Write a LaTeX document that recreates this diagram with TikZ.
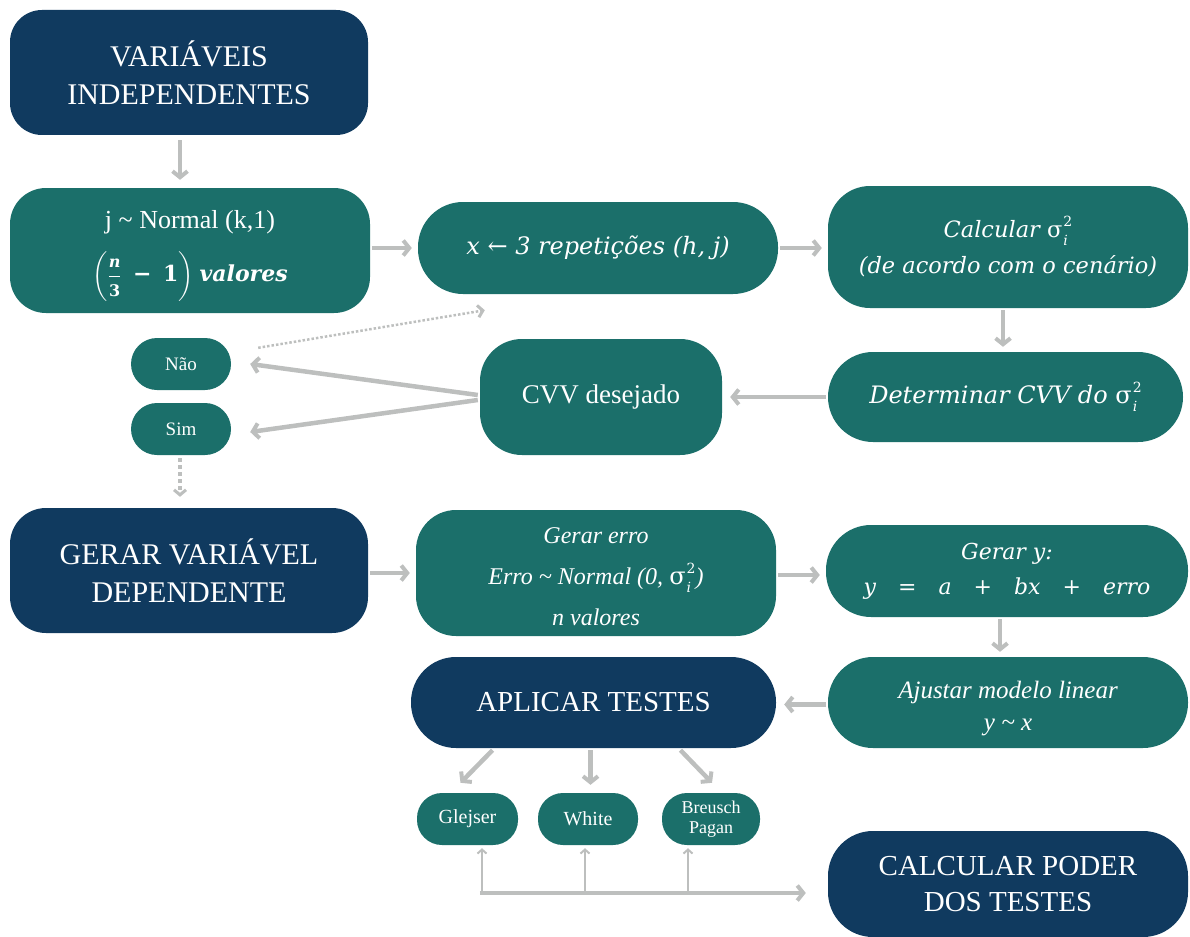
\documentclass[tikz,border=0pt]{standalone}
\usepackage{amsmath}
\usepackage{fontspec}
\newfontfamily\tms{Liberation Serif}
\newfontfamily\cam{DejaVu Serif}
\usetikzlibrary{arrows.meta}
\definecolor{dblue}{HTML}{103A5F}
\definecolor{tealb}{HTML}{1B6F6A}
\definecolor{agray}{HTML}{BDBFBE}
\newcommand\sigsq{{\upshape σ}\kern1pt\rlap{\raisebox{-8pt}{\fontsize{14}{14}\selectfont\itshape i}}\raisebox{11pt}{\fontsize{14}{14}\selectfont\upshape 2}}
\newcommand\fr[1]{\text{\fontsize{16}{16}\selectfont\cam\bfseries #1}}
\tikzset{
  box/.style={rectangle, fill=tealb, text=white, align=center, inner sep=0pt},
  dbox/.style={box, fill=dblue},
  arr/.style={draw=agray, line width=4.5pt, -{Straight Barb[length=6pt,width=15pt,line width=4pt]}},
  tarr/.style={draw=agray, line width=2pt, -{Straight Barb[length=4pt,width=9pt,line width=2pt]}},
  dotarr/.style={draw=agray, line width=3pt, dash pattern=on 3pt off 2.5pt, -{Straight Barb[length=5pt,width=12pt,line width=3pt]}},
  big/.style={font=\tms\fontsize{30}{38}\selectfont},
  mid/.style={font=\cam\itshape\fontsize{22.5}{36}\selectfont},
}
\begin{document}
\begin{tikzpicture}[x=1pt,y=-1pt]
\useasboundingbox (0,0) rectangle (1190,936);
% nodes
\node[dbox, big, minimum width=358pt, minimum height=125pt, rounded corners=32pt] (v1) at (189,72.5) {VARIÁVEIS\\INDEPENDENTES};
\node[box, minimum width=360pt, minimum height=125pt, rounded corners=36pt] (n2) at (190,250.5) {};
\node[text=white, align=center, inner sep=0pt] (n2t) at (190,256)
  {{\tms\fontsize{26}{30}\selectfont j \textasciitilde{} Normal (k,1)}\\[17pt]
   {\fontsize{22}{26}\selectfont $\left(\rule[-19pt]{0pt}{40pt}\dfrac{\fr{\itshape n}}{\fr{3}}\;\;\text{\cam\bfseries −}\;\;\text{\cam\bfseries 1}\right)$\kern6pt{\cam\bfseries\itshape valores}}};
\node[box, mid, font=\cam\itshape\fontsize{24}{36}\selectfont, minimum width=360pt, minimum height=92pt, rounded corners=45pt] (n3) at (598,248)
  {x ← 3 repetições (h, j)};
\node[box, mid, minimum width=360pt, minimum height=122pt, rounded corners=42pt] (n4) at (1008,247)
  {Calcular \sigsq\\(de acordo com o cenário)};
\node[box, mid, font=\cam\itshape\fontsize{24}{36}\selectfont, minimum width=355pt, minimum height=90pt, rounded corners=45pt] (n5) at (1005.5,397)
  {Determinar CVV do \sigsq};
\node[box, minimum width=242pt, minimum height=116pt, rounded corners=42pt, font=\tms\fontsize{27}{32}\selectfont] (n6) at (601,397) {CVV desejado};
\node[box, minimum width=100pt, minimum height=52pt, rounded corners=26pt, font=\tms\fontsize{19}{22}\selectfont] (n7) at (181,364) {Não};
\node[box, minimum width=100pt, minimum height=52pt, rounded corners=26pt, font=\tms\fontsize{19}{22}\selectfont] (n8) at (181,429) {Sim};
\node[dbox, big, minimum width=358pt, minimum height=125pt, rounded corners=36pt] (n9) at (189,570.5) {GERAR VARIÁVEL\\DEPENDENTE};
\node[box, minimum width=360pt, minimum height=126pt, rounded corners=40pt, font=\tms\itshape\fontsize{24}{41}\selectfont] (n10) at (596,573)
  {\rule{0pt}{24pt}Gerar erro\\Erro \textasciitilde{} Normal (0, {\cam\sigsq})\\n valores};
\node[box, minimum width=362pt, minimum height=92pt, rounded corners=45pt, font=\cam\itshape\fontsize{22}{35}\selectfont] (n11) at (1007,571)
  {Gerar y:\\y\quad{\upshape =}\quad a\quad{\upshape +}\quad bx\quad{\upshape +}\quad erro};
\node[dbox, font=\tms\fontsize{29}{36}\selectfont, minimum width=365pt, minimum height=91pt, rounded corners=45pt] (n12) at (593.5,702.5) {APLICAR TESTES};
\node[box, minimum width=360pt, minimum height=91pt, rounded corners=45pt, font=\tms\itshape\fontsize{25}{32}\selectfont] (n13) at (1008,702.5)
  {\rule{0pt}{29pt}Ajustar modelo linear\\y \textasciitilde{} x};
\node[box, minimum width=101pt, minimum height=52pt, rounded corners=25pt, font=\tms\fontsize{20}{22}\selectfont] (n14) at (467.5,819) {Glejser};
\node[box, minimum width=100pt, minimum height=52pt, rounded corners=25pt, font=\tms\fontsize{20}{22}\selectfont] (n15) at (588,819) {White};
\node[box, minimum width=98pt, minimum height=52pt, rounded corners=25pt, font=\tms\fontsize{18}{20}\selectfont] (n16) at (711,819) {Breusch\\Pagan};
\node[dbox, minimum width=360pt, minimum height=106pt, rounded corners=45pt, font=\tms\fontsize{29}{36}\selectfont] (n17) at (1008,884) {CALCULAR PODER\\DOS TESTES};
% connectors
\draw[arr] ([xshift=-9pt,yshift=-5pt]v1.south) -- ([xshift=-9pt,yshift=8pt]v1.south |- n2.north);
\draw[arr] ([xshift=2pt]n2.east |- n3.west) -- ([xshift=-6pt]n3.west);
\draw[arr] ([xshift=2pt]n3.east) -- ([xshift=-6pt]n3.east -| n4.west);
\draw[arr] ([xshift=-5pt,yshift=-2pt]n4.south) -- ([xshift=-5pt,yshift=5pt]n4.south |- n5.north);
\draw[arr] ([xshift=-2pt]n5.west) -- ([xshift=8pt]n6.east);
\draw[arr] ([xshift=-2pt,yshift=2pt]n6.west) -- ([xshift=19pt]n7.east);
\draw[arr] ([xshift=-2pt,yshift=-3pt]n6.west) -- ([xshift=19pt,yshift=-3pt]n8.east);
\draw[dotarr, line width=2.5pt, dash pattern=on 2.5pt off 2pt] ([xshift=27pt,yshift=-10pt]n7.north east) -- ([xshift=67pt,yshift=-16pt]n3.south west);
\draw[dotarr, line width=4.5pt, dash pattern=on 4pt off 3pt] ([xshift=-1pt,yshift=-3pt]n8.south) -- ([xshift=-1pt,yshift=11pt]n8.south |- n9.north);
\draw[arr] ([xshift=2pt]n9.east |- n10.west) -- ([xshift=-6pt]n10.west);
\draw[arr] ([xshift=2pt,yshift=-2pt]n10.east) -- ([xshift=-6pt,yshift=-2pt]n10.east -| n11.west);
\draw[arr] ([xshift=-7pt,yshift=-2pt]n11.south) -- ([xshift=-7pt,yshift=5pt]n11.south |- n13.north);
\draw[arr] ([xshift=-2pt,yshift=-2pt]n13.west) -- ([xshift=8pt,yshift=-2pt]n12.east);
\draw[arr] ([xshift=-101pt,yshift=-2pt]n12.south) -- ([xshift=-7pt,yshift=10pt]n14.north);
\draw[arr] ([xshift=-3pt,yshift=-2pt]n12.south) -- ([xshift=-3pt,yshift=8pt]n12.south |- n15.north);
\draw[arr] ([xshift=87pt,yshift=-2pt]n12.south) -- ([xshift=1pt,yshift=10pt]n16.north);
\coordinate (b1) at (482,893);
\coordinate (b2) at (585,893);
\coordinate (b3) at (688,893);
\draw[tarr] (b1) -- ([yshift=-3pt]b1 |- n14.south);
\draw[tarr] (b2) -- ([yshift=-3pt]b2 |- n15.south);
\draw[tarr] (b3) -- ([yshift=-3pt]b3 |- n16.south);
\draw[arr] ([xshift=-2.25pt]b1) -- ([xshift=-22pt]n17.west |- b1);
\end{tikzpicture}
\end{document}
